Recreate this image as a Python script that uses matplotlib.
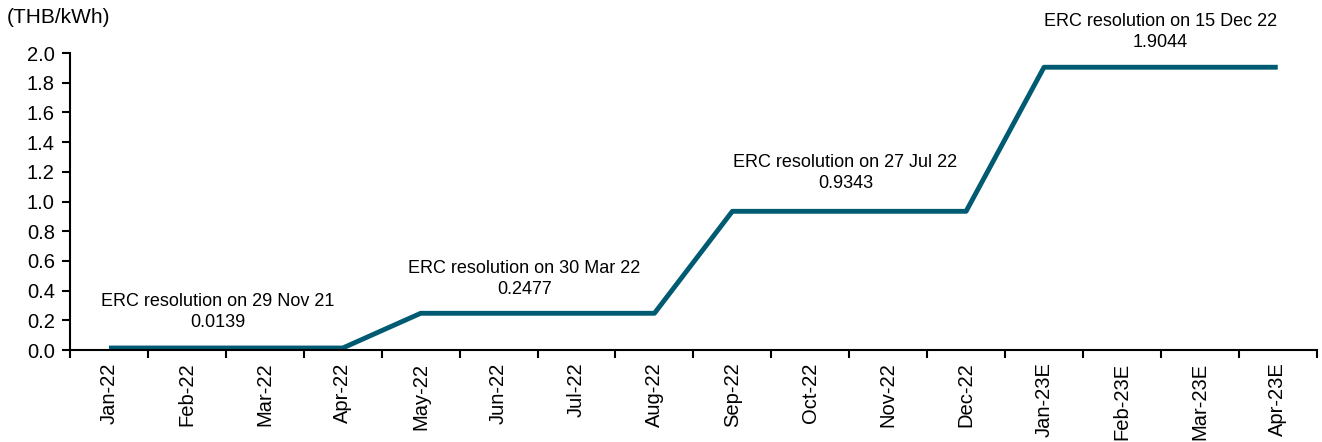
import matplotlib.pyplot as plt

plt.rcParams['font.family'] = ['Liberation Sans', 'DejaVu Sans']

months = ["Jan-22", "Feb-22", "Mar-22", "Apr-22", "May-22", "Jun-22", "Jul-22", "Aug-22",
          "Sep-22", "Oct-22", "Nov-22", "Dec-22", "Jan-23E", "Feb-23E", "Mar-23E", "Apr-23E"]
ft = [0.0139, 0.0139, 0.0139, 0.0139, 0.2477, 0.2477, 0.2477, 0.2477,
      0.9343, 0.9343, 0.9343, 0.9343, 1.9044, 1.9044, 1.9044, 1.9044]
notes = ["ERC resolution on 29 Nov 21\n0.0139", "ERC resolution on 30 Mar 22\n0.2477",
         "ERC resolution on 27 Jul 22\n0.9343", "ERC resolution on 15 Dec 22\n1.9044"]
note_x = [1.40, 5.33, 9.45, 13.49]
note_y = [0.255, 0.48, 1.19, 2.14]

fig = plt.figure(figsize=(13.22, 4.42), dpi=100)
ax = fig.add_axes([0.053, 0.208, 0.943, 0.672])

x = list(range(len(months)))
ax.plot(x, ft, color='#005B72', linewidth=3.5, solid_capstyle='butt')

for tx, ty, t in zip(note_x, note_y, notes):
    ax.text(tx, ty, t, ha='center', va='center', fontsize=13, linespacing=1.3)

ax.set_xlim(-0.5, len(months) - 0.5)
ax.set_ylim(0, 2.0)
ax.set_yticks([i / 5 for i in range(11)])
ax.set_yticklabels([f"{i / 5:.1f}" for i in range(11)], fontsize=14.5)
ax.set_xticks(x)
ax.set_xticklabels(months, rotation=90, fontsize=14.5)
ax.set_xticks([i - 0.5 for i in range(len(months) + 1)], minor=True)
ax.tick_params(axis='x', which='major', length=0, pad=9)
ax.tick_params(axis='x', which='minor', length=6, width=1.5, direction='out')
ax.tick_params(axis='y', length=6, width=1.5, direction='out', pad=5)

for s in ['top', 'right']:
    ax.spines[s].set_visible(False)
for s in ['left', 'bottom']:
    ax.spines[s].set_linewidth(1.5)

fig.text(0.005, 0.983, "(THB/kWh)", ha='left', va='top', fontsize=15)

fig.savefig("out.png", dpi=100)
